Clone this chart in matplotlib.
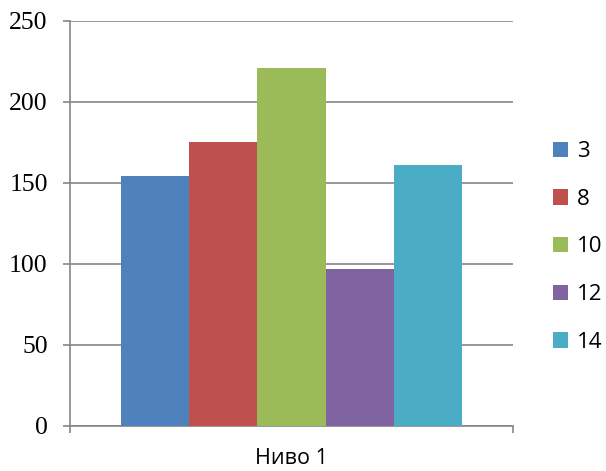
import matplotlib
matplotlib.use("Agg")
import matplotlib.pyplot as plt

# Data
series_names = ["3", "8", "10", "12", "14"]
values = [154, 175, 221, 97, 161]
colors = ["#4F81BD", "#C0504D", "#9BBB59", "#8064A2", "#4BACC6"]
category = "Ниво 1"
y_ticks = [0, 50, 100, 150, 200, 250]

fig = plt.figure(figsize=(6.06, 4.71), dpi=100)
ax = fig.add_axes([70 / 606, 1 - 426 / 471, 443 / 606, 405.5 / 471])

grid_color = "#868686"
n = len(values)
gap = 1.5  # gap width relative to one bar
bar_w = 1.0 / (n + gap)
start = gap / 2 * bar_w
for i, (name, v, c) in enumerate(zip(series_names, values, colors)):
    ax.bar(start + (i + 0.5) * bar_w, v, width=bar_w, color=c, label=name,
           linewidth=0, zorder=3)

ax.set_xlim(0, 1)
ax.set_ylim(0, 250)
ax.set_yticks(y_ticks)
ax.set_yticklabels([str(t) for t in y_ticks], fontfamily="Liberation Serif",
                   fontsize=18.5)
ax.yaxis.grid(True, color=grid_color, linewidth=1.2, zorder=0)
ax.tick_params(axis="y", direction="out", length=5, width=1.2,
               color=grid_color, pad=11)

# category label centered, boundary ticks at both ends
ax.set_xticks([0.5])
ax.set_xticklabels([category], fontfamily="Open Sans", fontsize=15.5)
ax.tick_params(axis="x", which="major", length=0, pad=16)
ax.set_xticks([0, 1], minor=True)
ax.tick_params(axis="x", which="minor", direction="out", length=5, width=1.2,
               color=grid_color)

for s in ["top", "right"]:
    ax.spines[s].set_visible(False)
for s in ["left", "bottom"]:
    ax.spines[s].set_color(grid_color)
    ax.spines[s].set_linewidth(1.2)

leg = fig.legend(loc="upper left", bbox_to_anchor=(553 / 606, 1 - 141 / 471),
                 frameon=False, prop={"family": "Open Sans", "size": 16},
                 handlelength=0.68, handleheight=0.68, handletextpad=0.4,
                 labelspacing=1.2, borderpad=0, borderaxespad=0)

fig.savefig("out.png", dpi=100)
